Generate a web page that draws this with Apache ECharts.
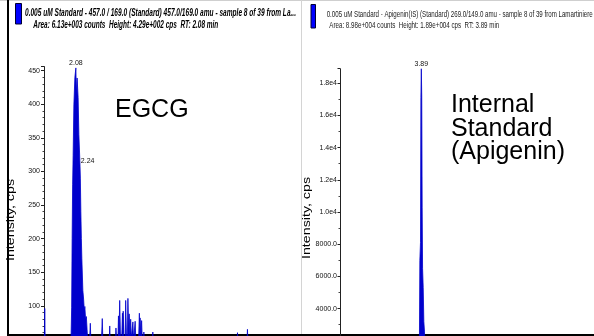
<!DOCTYPE html>
<html><head><meta charset="utf-8">
<script src="https://cdn.jsdelivr.net/npm/echarts@6/dist/echarts.min.js"></script>
<style>html,body{margin:0;padding:0;background:#fff}#c{width:594px;height:336px}</style>
</head><body><div id="c"></div>
<script>
// ---- data ----
const egcgTime = [0.80,0.81,0.83,0.85,1.20,1.60,1.86,1.89,1.91,1.93,1.95,1.97,2.00,2.04,2.08,2.10,2.13,2.17,2.20,2.24,2.26,2.28,2.30,2.32,2.36,2.39,2.42,2.44,2.47,2.50,2.53,2.56,2.62,2.66,2.69,3.10,3.14,3.17,3.41,3.44,3.47,3.66,3.69,3.72,3.77,3.79,3.81,3.84,3.87,3.92,3.95,3.97,3.98,4.01,4.06,4.08,4.11,4.15,4.17,4.20,4.22,4.25,4.28,4.31,4.35,4.37,4.40,4.44,4.46,4.49,4.60,4.63,4.65,4.66,4.69,4.72,4.75,4.79,4.81,4.84,5.14,5.17,5.20,6.50,8.54,8.57,8.60,8.94,8.97,9.00,11.0];
const egcgIntensity = [35,40,96,38,30,32,35,60,97,200,280,324,399,440,454,415,439,410,355,316,290,240,200,170,123,110,92,99,80,84,65,45,40,74,38,40,81,40,38,70,38,40,67,45,50,85,52,108,55,50,89,60,92,50,55,108,58,55,111,60,88,55,80,52,50,76,48,50,77,45,50,89,55,82,50,78,45,40,61,38,36,61,36,32,34,60,34,36,65,36,30];
const egcgPeakTimes = [2.08, 2.24];
const egcgPeakHeights = [454, 316];

const isTime = [0, 2.0, 3.75, 3.80, 3.82, 3.85, 3.87, 3.89, 3.91, 3.93, 3.95, 3.98, 4.01, 4.04, 4.08, 4.20, 8.0, 12.15];
const isIntensity = [300, 350, 400, 2200, 7000, 8100, 17100, 18900, 17200, 10300, 6500, 5300, 3200, 2600, 1200, 400, 350, 300];
const isPeakTimes = [3.89];
const isPeakHeights = [18900];

const leftTickValues = [100,150,200,250,300,350,400,450];
const leftTickLabels = ['100','150','200','250','300','350','400','450'];
const rightTickValues = [4000,6000,8000,10000,12000,14000,16000,18000];
const rightTickLabels = ['4000.0','6000.0','8000.0','1.0e4','1.2e4','1.4e4','1.6e4','1.8e4'];

const leftTitle1 = '0.005 uM Standard - 457.0 / 169.0 (Standard) 457.0/169.0 amu - sample 8 of 39 from La...';
const leftTitle2 = 'Area: 6.13e+003 counts  Height: 4.29e+002 cps  RT: 2.08 min';
const rightTitle1 = '0.005 uM Standard - Apigenin(IS) (Standard) 269.0/149.0 amu - sample 8 of 39 from Lamartiniere';
const rightTitle2 = 'Area: 8.98e+004 counts  Height: 1.89e+004 cps  RT: 3.89 min';
const yName = 'Intensity, cps';

// ---- layout ----
const FAM = 'Liberation Sans, Arial, sans-serif';
const BLUE = '#0000cc';
const zeroY = 373;           // pixel of intensity 0 (below the visible crop)
const leftScale = 0.672, rightScale = 0.0161;
const leftMax = 456, rightMax = 18900;

const mctx = document.createElement('canvas').getContext('2d');
function fit(str, style, weight, size, target) {
  mctx.font = style + ' ' + weight + ' ' + size + 'px ' + FAM;
  return target / mctx.measureText(str).width;
}
function headText(str, x, y, size, weight, style, target, color) {
  return { type: 'text', x: x, y: y, scaleX: fit(str, style, weight, size, target),
    style: { text: str, fontSize: size, fontFamily: FAM, fontWeight: weight, fontStyle: style,
      fill: color, align: 'left', verticalAlign: 'middle' } };
}
function yNameText(x, y) {
  return { type: 'text', x: x, y: y, rotation: Math.PI / 2, scaleX: fit(yName, 'normal', 'normal', 10, 82),
    style: { text: yName, fontSize: 10, fontFamily: FAM, fill: '#000', align: 'center', verticalAlign: 'middle' } };
}
function labelFrom(values, labels) {
  return function (v) { const i = values.indexOf(v); return i >= 0 ? labels[i] : ''; };
}

const chart = echarts.init(document.getElementById('c'), null, { renderer: 'canvas' });
chart.setOption({
  animation: false,
  backgroundColor: '#fff',
  grid: [
    { left: 44, width: 254, top: zeroY - leftMax * leftScale, height: leftMax * leftScale, outerBoundsMode: 'none' },
    { left: 340, width: 254, top: zeroY - rightMax * rightScale, height: rightMax * rightScale, outerBoundsMode: 'none' }
  ],
  xAxis: [
    { type: 'value', gridIndex: 0, min: 0.8, max: 11.0, show: false },
    { type: 'value', gridIndex: 1, min: 0, max: 12.15, show: false }
  ],
  yAxis: [
    { type: 'value', gridIndex: 0, min: 0, max: leftMax, interval: 50,
      axisLine: { show: true, lineStyle: { color: '#222', width: 1 } },
      axisTick: { show: true, length: 3, lineStyle: { color: '#222' } },
      minorTick: { show: true, splitNumber: 5, length: 1.5, lineStyle: { color: '#444' } },
      splitLine: { show: false }, minorSplitLine: { show: false },
      axisLabel: { fontSize: 7, fontFamily: FAM, color: '#111', margin: 4, showMaxLabel: false,
        formatter: labelFrom(leftTickValues, leftTickLabels) } },
    { type: 'value', gridIndex: 1, min: 0, max: rightMax, interval: 2000,
      axisLine: { show: true, lineStyle: { color: '#222', width: 1 } },
      axisTick: { show: true, length: 2.5, lineStyle: { color: '#222' } },
      minorTick: { show: true, splitNumber: 2, length: 1.5, lineStyle: { color: '#444' } },
      splitLine: { show: false }, minorSplitLine: { show: false },
      axisLabel: { fontSize: 7, fontFamily: FAM, color: '#111', margin: 3, showMaxLabel: false,
        formatter: labelFrom(rightTickValues, rightTickLabels) } }
  ],
  series: [
    { type: 'line', xAxisIndex: 0, yAxisIndex: 0, symbol: 'none', clip: true,
      data: egcgTime.map((t, i) => [t, egcgIntensity[i]]),
      lineStyle: { color: BLUE, width: 0.8 }, itemStyle: { color: BLUE },
      areaStyle: { color: BLUE, opacity: 1 },
      markPoint: { symbol: 'circle', symbolSize: 0.01, itemStyle: { color: 'rgba(0,0,0,0)' },
        label: { show: true, position: 'top', distance: 1, fontSize: 7, fontFamily: FAM, color: '#111',
          formatter: p => p.name },
        data: egcgPeakTimes.map((t, i) => ({ name: t.toFixed(2), coord: [t, egcgPeakHeights[i]],
          label: i === 1 ? { position: 'right', distance: 1 } : undefined })) } },
    { type: 'line', xAxisIndex: 1, yAxisIndex: 1, symbol: 'none', clip: true,
      data: isTime.map((t, i) => [t, isIntensity[i]]),
      lineStyle: { color: BLUE, width: 0.8 }, itemStyle: { color: BLUE },
      areaStyle: { color: BLUE, opacity: 1 },
      markPoint: { symbol: 'circle', symbolSize: 0.01, itemStyle: { color: 'rgba(0,0,0,0)' },
        label: { show: true, position: 'top', distance: 1.5, fontSize: 7, fontFamily: FAM, color: '#111',
          formatter: p => p.name },
        data: isPeakTimes.map((t, i) => ({ name: t.toFixed(2), coord: [t, isPeakHeights[i]] })) } }
  ],
  graphic: [
    { type: 'rect', shape: { x: 0, y: 0, width: 594, height: 1 }, style: { fill: '#cfcfcf' } },
    { type: 'rect', shape: { x: 7, y: 0, width: 2, height: 336 }, style: { fill: '#000' } },
    { type: 'rect', shape: { x: 301, y: 0, width: 1, height: 334 }, style: { fill: '#d4d4d4' } },
    { type: 'rect', shape: { x: 7, y: 334, width: 587, height: 2 }, style: { fill: '#000' } },
    { type: 'rect', shape: { x: 15.5, y: 3.5, width: 6, height: 20.5 }, style: { fill: '#0000ff', stroke: '#000033', lineWidth: 1 } },
    { type: 'rect', shape: { x: 311, y: 4.5, width: 4.5, height: 23.5 }, style: { fill: '#0000ff', stroke: '#000033', lineWidth: 1 } },
    headText(leftTitle1, 25, 13.7, 10, 'bold', 'italic', 271, '#000'),
    headText(leftTitle2, 33.3, 25.2, 10, 'bold', 'italic', 185, '#000'),
    headText(rightTitle1, 326.7, 14.2, 9.5, 'normal', 'normal', 266, '#222'),
    headText(rightTitle2, 329.3, 26, 9, 'normal', 'normal', 170, '#222'),
    yNameText(11.5, 220),
    yNameText(307, 218),
    { type: 'text', x: 115, y: 110.5, style: { text: 'EGCG', fontSize: 25, fontFamily: FAM, fill: '#000', align: 'left', verticalAlign: 'middle' } },
    { type: 'text', x: 451, y: 129, style: { text: 'Internal\nStandard\n(Apigenin)', fontSize: 25, lineHeight: 23.4, fontFamily: FAM, fill: '#000', align: 'left', verticalAlign: 'middle' } }
  ]
});
</script></body></html>
